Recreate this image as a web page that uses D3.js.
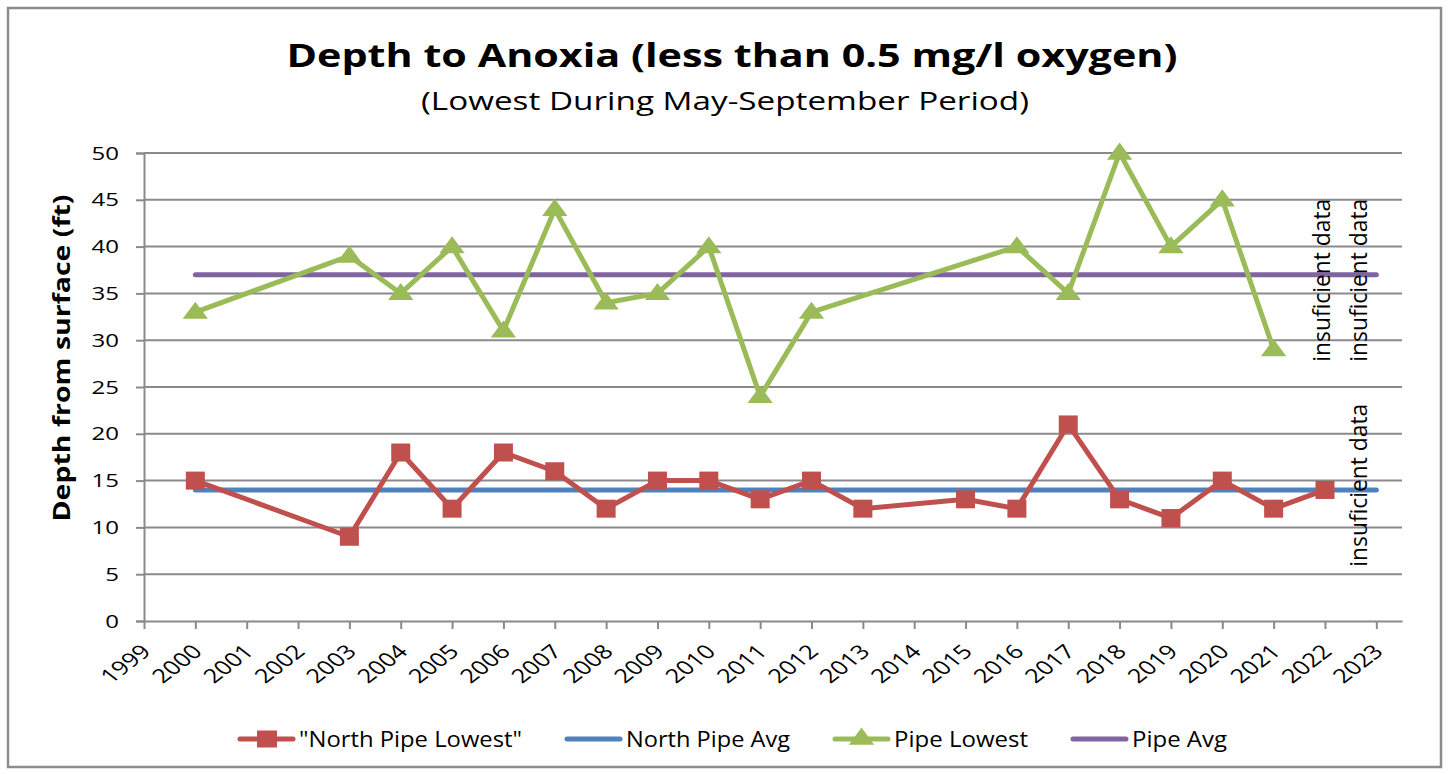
<!DOCTYPE html>
<html>
  <head>
    <title>Depth to Anoxia</title>
  <script src="https://d3js.org/d3.v7.min.js"></script>
  <style>
    body { margin: 0; background: #fff; }
    text { font-family: "Open Sans", sans-serif; fill: #000; }
  </style>
 </head>
  <body>

<script type="text/javascript">

// data
var yearTicks = [1999, 2000, 2001, 2002, 2003, 2004, 2005, 2006, 2007, 2008, 2009, 2010, 2011,
                 2012, 2013, 2014, 2015, 2016, 2017, 2018, 2019, 2020, 2021, 2022, 2023];
var depthTicks = [0, 5, 10, 15, 20, 25, 30, 35, 40, 45, 50];

var northYears  = [2000, 2003, 2004, 2005, 2006, 2007, 2008, 2009, 2010, 2011, 2012, 2013, 2015, 2016, 2017, 2018, 2019, 2020, 2021, 2022];
var northLowest = [15, 9, 18, 12, 18, 16, 12, 15, 15, 13, 15, 12, 13, 12, 21, 13, 11, 15, 12, 14];

var pipeYears  = [2000, 2003, 2004, 2005, 2006, 2007, 2008, 2009, 2010, 2011, 2012, 2016, 2017, 2018, 2019, 2020, 2021];
var pipeLowest = [33, 39, 35, 40, 31, 44, 34, 35, 40, 24, 33, 40, 35, 50, 40, 45, 29];

var avgYears  = [2000, 2023];
var northAvg  = [14, 14];
var pipeAvg   = [37, 37];

var legendNames = ['"North Pipe Lowest"', "North Pipe Avg", "Pipe Lowest", "Pipe Avg"];

// notes: [year, from depth, text]
var notes = [[2022, 27.7, "insuficient data"], [2022.72, 27.7, "insuficient data"], [2022.72, 5.8, "insuficient data"]];

var width = 1450, height = 774;
var stretch = 1.3;

var svg = d3.select("body")
      .append("svg")
      .attr("width", width)
      .attr("height", height);

svg.append("rect")
   .attr("x", 8).attr("y", 8)
   .attr("width", 1433).attr("height", 759)
   .attr("fill", "#fff")
   .attr("stroke", "#8c8c8c")
   .attr("stroke-width", 2.5);

var x = d3.scaleLinear().domain([1999, 2023.5]).range([144, 1402]);
var y = d3.scaleLinear().domain([0, 50]).range([621, 153]);

var grey = "#8a8a8a";

// gridlines
svg.append("g").selectAll("line")
   .data(depthTicks.slice(1))
   .enter().append("line")
   .attr("x1", x(1999)).attr("x2", x(2023.5))
   .attr("y1", function(d) { return y(d); })
   .attr("y2", function(d) { return y(d); })
   .attr("stroke", grey).attr("stroke-width", 2);

// y axis
var yAxis = svg.append("g")
    .attr("transform", "translate(" + x(1999) + ",0)")
    .call(d3.axisLeft(y).tickValues(depthTicks).tickSize(8).tickFormat(""));
yAxis.select(".domain").attr("stroke", grey).attr("stroke-width", 2);
yAxis.selectAll(".tick line").attr("stroke", grey).attr("stroke-width", 2);

svg.append("g").selectAll("text")
   .data(depthTicks)
   .enter().append("text")
   .attr("transform", function(d) { return "translate(119," + y(d) + ") scale(" + stretch + ",1)"; })
   .attr("text-anchor", "end")
   .attr("dy", "0.36em")
   .attr("font-size", 18.5)
   .attr("fill", "#222")
   .text(function(d) { return d; });

// x axis
var xAxis = svg.append("g")
    .attr("transform", "translate(0," + y(0) + ")")
    .call(d3.axisBottom(x).tickValues(yearTicks).tickSize(8).tickFormat("").tickSizeOuter(0));
xAxis.select(".domain").attr("stroke", grey).attr("stroke-width", 2);
xAxis.selectAll(".tick line").attr("stroke", grey).attr("stroke-width", 2);

svg.append("g").selectAll("text")
   .data(yearTicks)
   .enter().append("text")
   .attr("transform", function(d) {
       return "translate(" + (x(d) + 2) + "," + (y(0) + 27) + ") scale(" + stretch + ",1) rotate(-45)";
   })
   .attr("text-anchor", "end")
   .attr("dy", "0.35em")
   .attr("font-size", 19.5)
   .attr("fill", "#222")
   .text(function(d) { return d; });

// lines
var line = d3.line()
    .x(function(d) { return x(d[0]); })
    .y(function(d) { return y(d[1]); });

var red = "#c0504d", blue = "#4f81bd", green = "#9bbb59", purple = "#8064a2";

var series = [
  {years: avgYears, values: pipeAvg, color: purple},
  {years: avgYears, values: northAvg, color: blue},
  {years: pipeYears, values: pipeLowest, color: green},
  {years: northYears, values: northLowest, color: red}
];

series.forEach(function(s) {
  svg.append("path")
     .datum(d3.zip(s.years, s.values))
     .attr("d", line)
     .attr("fill", "none")
     .attr("stroke", s.color)
     .attr("stroke-width", 5)
     .attr("stroke-linejoin", "round")
     .attr("stroke-linecap", "round");
});

var tri = d3.symbol().type(d3.symbolTriangle).size(210);

svg.append("g").selectAll("path")
   .data(d3.zip(pipeYears, pipeLowest))
   .enter().append("path")
   .attr("d", tri)
   .attr("transform", function(d) { return "translate(" + x(d[0]) + "," + (y(d[1]) + 1) + ") scale(1.15,0.9)"; })
   .attr("fill", green);

svg.append("g").selectAll("rect")
   .data(d3.zip(northYears, northLowest))
   .enter().append("rect")
   .attr("x", function(d) { return x(d[0]) - 9.5; })
   .attr("y", function(d) { return y(d[1]) - 9; })
   .attr("width", 19).attr("height", 18)
   .attr("fill", red);

// notes
svg.append("g").selectAll("text")
   .data(notes)
   .enter().append("text")
   .attr("transform", function(d, i) { return "translate(" + (x(d[0]) + 5) + "," + y(d[1]) + ") scale(" + stretch + ",1) rotate(-90)"; })
   .attr("font-size", 18.5)
   .attr("textLength", 163)
   .attr("lengthAdjust", "spacingAndGlyphs")
   .text(function(d) { return d[2]; });

// titles
svg.append("text")
   .attr("x", 732).attr("y", 67)
   .attr("text-anchor", "middle")
   .attr("font-size", 33)
   .attr("font-weight", "bold")
   .attr("textLength", 891)
   .attr("lengthAdjust", "spacingAndGlyphs")
   .text("Depth to Anoxia (less than 0.5 mg/l oxygen)");

svg.append("text")
   .attr("x", 725).attr("y", 110)
   .attr("text-anchor", "middle")
   .attr("font-size", 25)
   .attr("textLength", 608)
   .attr("lengthAdjust", "spacingAndGlyphs")
   .text("(Lowest During May-September Period)");

svg.append("text")
   .attr("transform", "translate(70,358) rotate(-90)")
   .attr("text-anchor", "middle")
   .attr("font-size", 24)
   .attr("font-weight", "bold")
   .attr("textLength", 327)
   .attr("lengthAdjust", "spacingAndGlyphs")
   .text("Depth from surface (ft)");

// legend
var legendColors = [red, blue, green, purple];
var legendWidths = [223, 164, 134, 95];
var lx = 238, ly = 739;
legendNames.forEach(function(name, i) {
  var g = svg.append("g").attr("transform", "translate(" + lx + "," + ly + ")");
  g.append("line")
   .attr("x1", 2).attr("x2", 55)
   .attr("stroke", legendColors[i]).attr("stroke-width", 5)
   .attr("stroke-linecap", "round");
  if (i == 0) {
    g.append("rect").attr("x", 19).attr("y", -8.5).attr("width", 20).attr("height", 17).attr("fill", red);
  }
  if (i == 2) {
    g.append("path").attr("d", tri).attr("transform", "translate(28.5,0) scale(1.15,0.9)").attr("fill", green);
  }
  g.append("text")
   .attr("x", 61).attr("dy", "0.36em")
   .attr("font-size", 21)
   .attr("fill", "#222")
   .attr("textLength", legendWidths[i])
   .attr("lengthAdjust", "spacingAndGlyphs")
   .text(name);
  lx += 61 + legendWidths[i] + 43;
});

</script>

</body>
</html>
